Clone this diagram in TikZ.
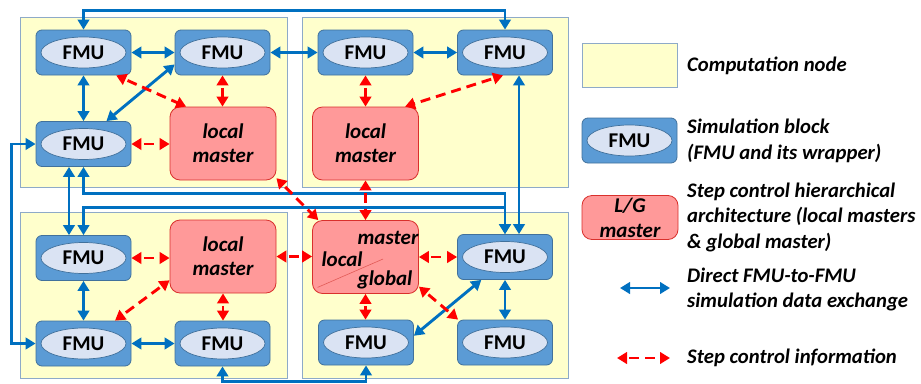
\documentclass[tikz,border=0pt]{standalone}
\usepackage{fontspec}
\setmainfont{Carlito}
\usetikzlibrary{arrows.meta,calc}
\definecolor{panelfill}{HTML}{FFFFCC}
\definecolor{panelborder}{HTML}{8EAAC8}
\definecolor{fmublue}{HTML}{5B9BD5}
\definecolor{fmuborder}{HTML}{41719C}
\definecolor{ellfill}{HTML}{DAE3F3}
\definecolor{mastfill}{HTML}{FF9999}
\definecolor{mastborder}{HTML}{D9302C}
\definecolor{arrblue}{HTML}{0070C0}
\definecolor{arrred}{HTML}{FF0000}
\begin{document}
\begin{tikzpicture}[x=1pt,y=-1pt,
  >={Triangle[length=10pt,width=11.5pt]},
  panel/.style={rectangle, fill=panelfill, draw=panelborder, line width=0.8pt, inner sep=0pt},
  fmubox/.style={rectangle, rounded corners=6pt, fill=fmublue, draw=fmuborder, line width=0.8pt,
     minimum width=95pt, minimum height=45pt, inner sep=0pt,
     font=\fontsize{21}{24}\selectfont\bfseries,
     path picture={\draw[fill=ellfill, draw=fmuborder, line width=0.7pt]
        (path picture bounding box.center) ellipse [x radius=42.5pt, y radius=15.5pt];}},
  mastbox/.style={rectangle, rounded corners=10pt, fill=mastfill, draw=mastborder, line width=0.8pt,
     minimum width=106pt, minimum height=73pt, inner sep=0pt, align=center,
     font=\fontsize{21}{24}\selectfont\bfseries\itshape},
  mtxt/.style={inner sep=0pt, font=\fontsize{21}{24}\selectfont\bfseries\itshape},
  legtext/.style={anchor=west, align=left, inner sep=0pt,
     font=\fontsize{20.7}{25.5}\selectfont\bfseries\itshape},
  bluearr/.style={<->, draw=arrblue, line width=2.9pt},
  redarr/.style={<->, draw=arrred, line width=2.9pt, dash pattern=on 10pt off 6pt, dash phase=13pt}
]
\useasboundingbox[fill=white] (0,0) rectangle (921,383);

% computation node panels
\node[panel, minimum width=267pt, minimum height=170pt] (P1) at (153.5,102) {};
\node[panel, minimum width=266pt, minimum height=170pt] (P2) at (435,102) {};
\node[panel, minimum width=267pt, minimum height=166pt] (P3) at (153.5,295) {};
\node[panel, minimum width=266pt, minimum height=166pt] (P4) at (435,295) {};

% FMU blocks
\node[fmubox] (A) at (83.5,52.5) {FMU};
\node[fmubox] (B) at (222.5,52.5) {FMU};
\node[fmubox] (C) at (83.5,144) {FMU};
\node[fmubox] (D) at (365.5,52.5) {FMU};
\node[fmubox] (E) at (505,52.5) {FMU};
\node[fmubox] (F) at (83.5,258) {FMU};
\node[fmubox] (G) at (83.5,343.5) {FMU};
\node[fmubox] (H) at (222.5,343.5) {FMU};
\node[fmubox] (I) at (505,257) {FMU};
\node[fmubox] (J) at (366,342.5) {FMU};
\node[fmubox] (K) at (505,342.5) {FMU};

% masters
\node[mastbox] (TLm) at (223,143.5) {local\\master};
\node[mastbox] (TRm) at (365.5,143.5) {local\\master};
\node[mastbox] (BLm) at (223,256.5) {local\\master};
\node[mastbox] (LG) at (365.5,257) {};
\draw[mastborder!80, line width=0.6pt] ($(LG.south west)+(5.5,-6.5)$) -- ($(LG.center)+(17.5,2)$);
\node[mtxt] (LGa) at (388,238) {master};
\node[mtxt] (LGb) at (342,259) {local};
\node[mtxt] (LGc) at (385,280) {global};

% blue data exchange connectors
\draw[bluearr] (A.east) -- (B.west);
\draw[bluearr] (A.south) -- (C.north);
\draw[bluearr] (B.194) -- (C.45);
\draw[bluearr] (B.east) -- (D.west);
\draw[bluearr] (D.east) -- (E.west);
\draw[bluearr] (A.north) -- ++(0,-19.5) -| (E.north);
\draw[bluearr] (C.west) -- ++(-24,0) |- (G.west);
\draw[bluearr] ([xshift=-14.5pt]C.south) -- ([xshift=-14.5pt]F.north);
\draw[bluearr] (C.south) |- ($(I.north)+(0,-41)$) -- (I.north);
\draw[bluearr] (F.north) |- ($(I.north)+(0,-26.5)$) -- (I.north);
\draw[bluearr] ([xshift=14pt]E.south) -- ([xshift=14pt]I.north);
\draw[bluearr] (F.south) -- (G.north);
\draw[bluearr] (G.east) -- (H.west);
\draw[bluearr] (H.south) -- ++(0,15) -| (J.south);
\draw[bluearr] (I.224) -- (J.8.5);
\draw[bluearr] (I.south) -- (K.north);

% red step control connectors
\draw[redarr] (A.-35.5) -- (TLm.135);
\draw[redarr] (B.south) -- (B.south |- TLm.north);
\draw[redarr] (C.east) -- (C.east -| TLm.west);
\draw[redarr] (D.south) -- (D.south |- TRm.north);
\draw[redarr] (E.265) -- (TRm.43);
\draw[redarr] (TLm.-33.6) -- (LG.142);
\draw[redarr] (TRm.south) -- (LG.north);
\draw[redarr] (BLm.east) -- (BLm.east -| LG.west);
\draw[redarr] (F.east) -- (F.east -| BLm.west);
\draw[redarr] (BLm.204) -- (G.36);
\draw[redarr] (BLm.south) -- (BLm.south |- H.north);
\draw[redarr] (LG.east) -- (LG.east -| I.west);
\draw[redarr] (LG.south) -- (LG.south |- J.north);
\draw[redarr] (LG.-29.3) -- (K.154);

% legend
\node[panel, minimum width=95pt, minimum height=44pt] (LY) at (629.5,65) {};
\node[legtext] (T1) at (687,66) {Computation node};
\node[fmubox] (LF) at (629.5,140.5) {FMU};
\node[legtext] (T2) at (687,141) {Simulation block\\(FMU and its wrapper)};
\node[mastbox, minimum width=96pt, minimum height=44pt, font=\fontsize{21}{25}\selectfont\bfseries\itshape] (LM) at (630,217.5) {L/G\\master};
\node[legtext] (T3) at (687,217) {Step control hierarchical\\architecture (local masters\\\& global master)};
\coordinate (lb1) at (620,288);
\coordinate (lb2) at (670,288);
\draw[bluearr] (lb1) -- (lb2);
\node[legtext] (T4) at (687,289.5) {Direct FMU-to-FMU\\simulation data exchange};
\coordinate (lr1) at (617,358);
\coordinate (lr2) at (670,358);
\draw[redarr] (lr1) -- (lr2);
\node[legtext] (T5) at (687,358) {Step control information};
\end{tikzpicture}
\end{document}
